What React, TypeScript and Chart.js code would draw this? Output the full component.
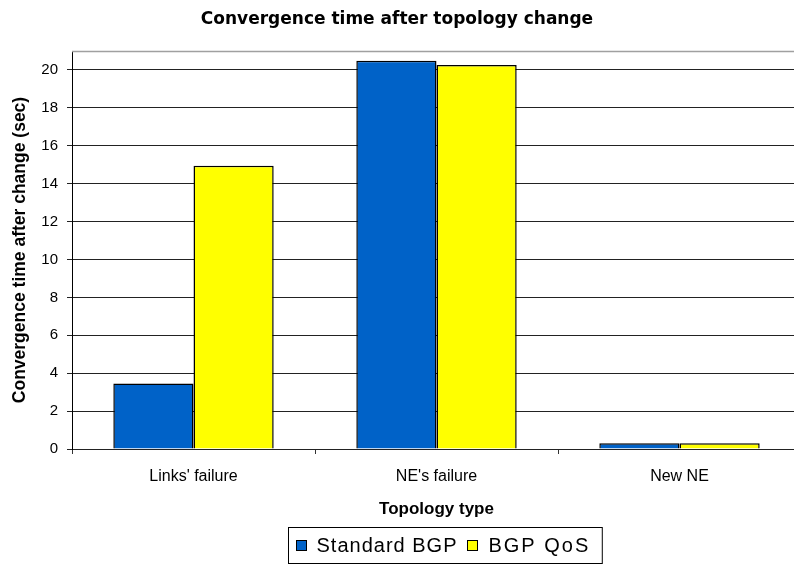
import React, { useEffect, useRef } from 'react';
import { Chart, registerables } from 'chart.js';

Chart.register(...registerables);

const chartTitle = 'Convergence time after topology change';
const xAxisTitle = 'Topology type';
const yAxisTitle = 'Convergence time after change (sec)';
const categories = ["Links' failure", "NE's failure", 'New NE'];
const standardBGP = [3.45, 20.48, 0.3];
const bgpQoS = [14.95, 20.26, 0.3];
const seriesNames = ['Standard BGP', 'BGP QoS'];
const seriesColors = ['#0062C8', '#FFFF00'];
const yTickValues = [0, 2, 4, 6, 8, 10, 12, 14, 16, 18, 20];
const yMax = 21;

const SANS = "'Liberation Sans', Arial, sans-serif";
const PLOT_OVERFLOW_RIGHT = 7; // plot area runs past the right edge of the picture

const framePlugin = {
  id: 'frameAndLegend',
  afterLayout(chart: any) {
    const ca = chart.chartArea;
    const target = chart.width + PLOT_OVERFLOW_RIGHT;
    ca.right = target;
    ca.width = target - ca.left;
    const xs = chart.scales.x;
    xs.right = target;
    xs.width = target - xs.left;
    xs.configure();
  },
  afterDraw(chart: any) {
    const { ctx, chartArea } = chart;
    ctx.save();
    // top border of plot area
    ctx.strokeStyle = '#a0a0a0';
    ctx.lineWidth = 1.5;
    ctx.beginPath();
    ctx.moveTo(chartArea.left, Math.round(chartArea.top) + 0.5);
    ctx.lineTo(chartArea.right, Math.round(chartArea.top) + 0.5);
    ctx.stroke();

    // legend
    ctx.font = `20px ${SANS}`;
    const datasets = chart.data.datasets;
    const spacing = ['1px', '2px'];
    const sq = 11;
    const padL = 7;
    const padR = 12;
    const gapSqText = 10;
    const gapItems = 10;
    const widths = datasets.map((d: any, i: number) => {
      try { (ctx as any).letterSpacing = spacing[i] || '1px'; } catch (e) {}
      return ctx.measureText(d.label).width;
    });
    let total = padL + padR;
    widths.forEach((w: number, i: number) => {
      total += sq + gapSqText + w + (i > 0 ? gapItems : 0);
    });
    const cx = (chartArea.left + chartArea.right) / 2 + 8;
    const boxLeft = Math.round(cx - total / 2) + 0.5;
    const boxTop = 527.5;
    const boxH = 36;
    ctx.strokeStyle = '#000';
    ctx.lineWidth = 1;
    ctx.strokeRect(boxLeft, boxTop, total, boxH);
    let x = boxLeft + padL;
    const cy = boxTop + boxH / 2;
    datasets.forEach((d: any, i: number) => {
      if (i > 0) x += gapItems;
      ctx.fillStyle = d.backgroundColor;
      ctx.fillRect(Math.round(x), Math.round(cy - sq / 2), sq, sq);
      ctx.strokeStyle = '#000';
      ctx.strokeRect(Math.round(x) + 0.5, Math.round(cy - sq / 2) + 0.5, sq - 1, sq - 1);
      x += sq + gapSqText;
      ctx.fillStyle = '#000';
      ctx.textAlign = 'left';
      ctx.textBaseline = 'middle';
      try { (ctx as any).letterSpacing = spacing[i] || '1px'; } catch (e) {}
      ctx.fillText(d.label, x, cy + 1);
      x += widths[i];
    });
    ctx.restore();
  },
};

export default function App() {
  const canvasRef = useRef<HTMLCanvasElement | null>(null);

  useEffect(() => {
    const canvas = canvasRef.current;
    if (!canvas) return;
    const chart = new Chart(canvas, {
      type: 'bar',
      data: {
        labels: categories,
        datasets: [
          {
            label: seriesNames[0],
            data: standardBGP,
            backgroundColor: seriesColors[0],
            borderColor: '#000',
            borderWidth: 1.5,
            categoryPercentage: 0.66,
            barPercentage: 1.0,
          },
          {
            label: seriesNames[1],
            data: bgpQoS,
            backgroundColor: seriesColors[1],
            borderColor: '#000',
            borderWidth: 1.5,
            categoryPercentage: 0.66,
            barPercentage: 1.0,
          },
        ],
      },
      options: {
        responsive: false,
        animation: false,
        devicePixelRatio: 1,
        layout: { padding: 0 },
        plugins: {
          legend: { display: false },
          tooltip: { enabled: false },
          title: {
            display: true,
            text: chartTitle,
            color: '#000',
            font: { family: "'DejaVu Sans', sans-serif", size: 17, weight: 'bold' },
            padding: { top: 9.3, bottom: 21.3 },
          },
        },
        scales: {
          x: {
            offset: true,
            grid: {
              display: true,
              drawOnChartArea: false,
              offset: true,
              tickLength: 5,
              color: '#333',
            },
            border: { display: true, color: '#222', width: 1 },
            ticks: {
              color: '#000',
              font: { family: SANS, size: 16 },
              padding: 13,
              maxRotation: 0,
            },
            title: {
              display: true,
              text: xAxisTitle,
              color: '#000',
              font: { family: SANS, size: 17, weight: 'bold' },
              padding: { top: 0, bottom: 45.8 },
            },
            afterFit(scale: any) {
              scale.height = 116;
            },
          },
          y: {
            min: 0,
            max: yMax,
            grid: {
              color: '#222',
              lineWidth: 1,
              tickLength: 5,
            },
            border: { display: true, color: '#000', width: 1 },
            ticks: {
              color: '#000',
              font: { family: SANS, size: 15 },
              padding: 9,
            },
            title: {
              display: true,
              text: yAxisTitle,
              color: '#000',
              font: { family: SANS, size: 17.5, weight: 'bold' },
              padding: { top: 9.5, bottom: 0 },
            },
            afterBuildTicks(scale: any) {
              scale.ticks = yTickValues.map((v) => ({ value: v }));
            },
            afterFit(scale: any) {
              scale.width = 72;
            },
          },
        },
      },
      plugins: [framePlugin],
    } as any);
    return () => chart.destroy();
  }, []);

  return (
    <div style={{ position: 'fixed', left: 0, top: 0, width: 794, height: 565, background: '#fff', overflow: 'hidden' }}>
      <canvas ref={canvasRef} width={794} height={565} style={{ display: 'block' }} />
    </div>
  );
}
